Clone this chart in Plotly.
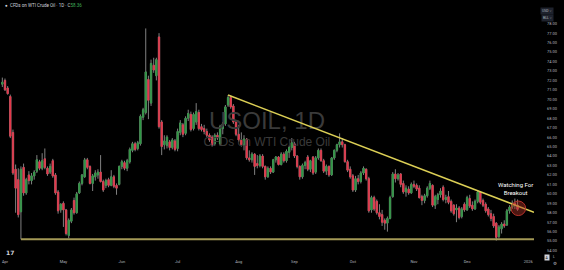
import pandas as pd
import plotly.graph_objects as go

# ---------------- data ----------------
dates = [d.strftime("%Y-%m-%d") for d in pd.bdate_range("2025-03-31", "2025-12-26")]

opens = [71.6, 72.0, 71.2, 70.3, 66.5, 62.6, 61.5, 58.1, 62.8, 60.1, 62.0, 61.4, 61.9, 62.4, 63.4, 62.7, 63.7, 62.7, 62.3, 63.5,
         62.0, 60.2, 58.3, 59.0, 58.3, 55.6, 57.1, 59.3, 58.0, 60.1, 61.1, 61.8, 63.6, 62.9, 61.1, 61.8, 62.0, 62.3, 61.3, 60.9,
         61.5, 60.9, 61.8, 60.9, 61.0, 62.9, 63.3, 62.7, 63.4, 64.6, 65.3, 64.8, 65.3, 68.1, 68.6, 72.1, 69.6, 73.6, 72.5, 76.6,
         67.6, 65.2, 65.1, 65.5, 64.9, 65.6, 64.8, 66.5, 67.3, 66.4, 68.0, 68.4, 66.9, 67.6, 68.6, 67.1, 66.9, 66.6, 66.2, 66.0,
         65.3, 66.2, 65.3, 66.9, 67.4, 69.4, 70.2, 69.3, 67.6, 66.3, 65.7, 65.2, 65.8, 63.8, 63.6, 64.2, 63.2, 63.0, 64.0, 62.9,
         61.8, 62.7, 62.3, 63.6, 63.9, 63.1, 64.2, 63.5, 64.4, 64.9, 65.3, 64.0, 62.9, 61.8, 63.0, 63.9, 62.6, 63.9, 62.3, 63.8,
         64.6, 63.5, 62.4, 62.9, 62.0, 63.8, 64.6, 65.2, 65.5, 65.2, 63.4, 62.6, 61.9, 60.4, 61.6, 61.3, 62.2, 62.6, 61.6, 58.3,
         59.6, 59.2, 58.0, 57.8, 57.2, 56.9, 57.4, 59.7, 62.1, 61.6, 62.1, 61.1, 60.2, 60.5, 60.1, 61.0, 60.9, 60.6, 59.7, 59.3,
         59.8, 60.6, 60.9, 58.8, 59.4, 59.9, 60.7, 59.4, 59.7, 59.2, 58.8, 58.3, 58.5, 57.6, 58.9, 58.3, 59.5, 58.8, 58.4, 59.2,
         60.2, 59.3, 58.9, 58.4, 57.9, 57.6, 56.9, 55.5, 56.3, 56.8, 56.7, 58.2, 58.6, 59.0, 58.8]
highs = [72.3, 72.2, 71.4, 70.5, 66.8, 63.1, 62.7, 62.9, 63.2, 61.7, 62.4, 62.2, 62.5, 64.1, 63.6, 64.3, 64.8, 62.9, 63.2, 63.7,
         62.2, 60.4, 59.0, 59.2, 58.4, 57.4, 58.5, 59.6, 60.2, 61.3, 62.1, 63.8, 63.8, 63.0, 62.1, 62.5, 62.6, 64.1, 61.5, 61.6,
         61.7, 62.5, 62.0, 61.1, 63.0, 63.6, 63.5, 63.7, 64.9, 65.5, 65.5, 65.6, 68.4, 69.1, 77.5, 72.5, 74.2, 74.4, 74.4, 77.0,
         67.8, 66.2, 66.2, 65.7, 65.9, 65.8, 66.9, 67.8, 67.5, 68.2, 68.9, 68.7, 68.6, 69.6, 68.9, 67.4, 67.3, 66.9, 66.4, 66.2,
         66.4, 66.5, 67.3, 67.6, 69.4, 70.45, 70.4, 69.5, 67.8, 67.3, 66.5, 66.2, 65.9, 64.6, 64.4, 64.3, 64.1, 64.2, 64.2, 63.0,
         62.9, 62.9, 63.7, 64.0, 64.0, 64.4, 64.4, 64.7, 65.1, 65.9, 65.5, 64.1, 63.0, 63.2, 63.5, 64.1, 63.6, 64.0, 64.0, 64.8,
         64.8, 63.7, 63.1, 63.0, 63.9, 64.7, 65.3, 66.4, 65.9, 65.3, 63.6, 62.9, 62.1, 61.9, 62.0, 62.4, 62.9, 62.7, 61.8, 59.8,
         59.8, 59.4, 58.9, 58.3, 57.4, 57.6, 59.8, 62.3, 62.6, 62.2, 62.2, 61.4, 60.9, 60.8, 61.2, 61.4, 61.1, 60.9, 59.9, 60.0,
         60.8, 61.4, 61.0, 59.9, 60.1, 60.6, 60.9, 59.9, 60.3, 59.4, 58.9, 58.9, 58.7, 58.6, 59.1, 59.8, 59.9, 59.2, 59.4, 60.4,
         60.3, 59.5, 59.1, 58.6, 58.3, 57.9, 57.0, 56.7, 57.0, 57.2, 58.4, 58.8, 59.3, 59.5, 59.4]
lows = [71.3, 70.9, 70.5, 65.9, 62.0, 58.0, 57.5, 55.2, 59.8, 59.9, 61.0, 61.0, 61.5, 62.2, 62.5, 62.5, 62.6, 61.9, 62.1, 61.7,
        59.9, 57.9, 58.0, 56.5, 55.6, 55.3, 56.9, 57.8, 57.9, 60.0, 60.9, 61.7, 62.6, 61.0, 60.3, 61.4, 61.6, 61.2, 60.2, 60.6,
        60.7, 60.8, 60.6, 59.9, 60.9, 62.6, 62.5, 62.4, 63.2, 64.4, 64.5, 64.6, 65.1, 67.8, 68.4, 67.9, 69.3, 72.8, 72.0, 66.9,
        64.1, 64.7, 64.8, 64.6, 64.7, 64.5, 64.5, 66.2, 66.0, 66.2, 67.7, 66.6, 66.7, 67.3, 66.7, 66.6, 66.3, 66.0, 65.5, 65.0,
        65.1, 65.7, 65.1, 66.3, 67.2, 69.2, 69.0, 67.4, 66.1, 65.5, 65.0, 64.6, 63.6, 63.4, 63.3, 62.0, 62.7, 62.8, 62.7, 61.5,
        61.7, 62.1, 62.2, 63.3, 63.0, 63.0, 63.3, 63.3, 63.8, 64.6, 63.8, 62.7, 61.5, 61.6, 62.6, 62.4, 62.3, 62.0, 62.1, 63.6,
        63.4, 62.2, 62.0, 61.8, 61.9, 63.6, 64.4, 64.9, 64.9, 63.3, 62.3, 61.6, 60.2, 60.2, 61.0, 61.1, 62.0, 61.4, 58.0, 58.0,
        58.2, 57.8, 57.3, 56.6, 56.2, 56.0, 57.3, 59.6, 61.2, 61.4, 60.7, 60.0, 59.7, 59.9, 60.0, 60.6, 60.3, 59.5, 58.8, 59.0,
        59.6, 60.4, 58.6, 58.4, 58.9, 59.6, 59.2, 59.0, 58.9, 58.0, 57.7, 57.0, 57.3, 57.4, 58.1, 58.2, 58.5, 58.2, 58.3, 59.0,
        58.9, 58.6, 58.0, 57.6, 57.1, 56.4, 55.05, 55.3, 55.8, 56.4, 56.6, 57.9, 58.4, 58.4, 58.2]
closes = [71.8, 71.0, 70.6, 66.1, 62.2, 60.6, 57.8, 62.6, 60.1, 61.5, 61.4, 61.9, 62.3, 63.6, 62.7, 63.5, 62.8, 62.1, 62.9, 61.9,
          60.1, 58.2, 58.9, 58.3, 55.8, 57.2, 58.3, 58.0, 60.0, 61.1, 62.0, 63.6, 62.8, 61.1, 61.9, 62.2, 62.3, 61.3, 60.4, 61.4,
          60.9, 61.8, 60.8, 60.6, 62.9, 63.4, 62.7, 63.5, 64.7, 65.3, 64.7, 65.4, 68.2, 68.9, 72.9, 69.9, 73.8, 73.1, 74.2, 67.1,
          65.0, 65.6, 66.0, 64.9, 65.7, 64.7, 66.6, 67.5, 66.3, 68.0, 68.5, 66.8, 68.4, 68.7, 66.9, 66.8, 66.6, 66.2, 65.7, 65.2,
          66.2, 65.9, 67.1, 67.4, 69.2, 70.2, 69.2, 67.6, 66.3, 65.7, 65.2, 65.8, 63.8, 63.6, 64.2, 62.9, 63.0, 64.0, 62.9, 61.8,
          62.7, 62.3, 63.6, 63.9, 63.1, 64.2, 63.5, 64.5, 64.9, 65.4, 64.0, 62.9, 61.8, 63.0, 63.3, 62.6, 63.5, 62.2, 63.8, 64.6,
          63.5, 62.4, 62.9, 62.0, 63.8, 64.6, 65.2, 65.5, 65.2, 63.4, 62.5, 61.8, 60.4, 61.6, 61.3, 62.2, 62.7, 61.6, 58.2, 59.6,
          58.4, 58.0, 57.6, 57.0, 56.9, 57.4, 59.6, 62.1, 61.6, 62.0, 61.0, 60.2, 60.6, 60.1, 61.0, 60.8, 60.5, 59.6, 59.3, 59.8,
          60.6, 61.1, 58.8, 59.7, 59.9, 60.3, 59.4, 59.6, 59.1, 58.2, 57.9, 58.5, 57.5, 58.4, 58.3, 59.6, 58.7, 58.4, 59.2, 60.2,
          59.1, 58.8, 58.2, 57.8, 57.4, 56.6, 55.4, 56.5, 56.8, 56.6, 58.2, 58.6, 59.0, 58.8, 58.36]

month_ticks = ["2025-04-01", "2025-05-01", "2025-06-02", "2025-07-01", "2025-08-01",
               "2025-09-01", "2025-10-01", "2025-11-03", "2025-12-01", "2026-01-01"]
month_labels = ["Apr", "May", "Jun", "Jul", "Aug", "Sep", "Oct", "Nov", "Dec", "2026"]
price_ticks = list(range(54, 79))

support_level = 55.2
support_start = "2025-04-09"
trend_start = ("2025-07-28", 70.45)
trend_end_price = 58.04

# ---------------- layout constants ----------------
X_RANGE = ["2025-03-28 02:53", "2026-01-05 04:48"]
Y_RANGE = [53.21, 80.51]
UP, DOWN, WICK = "#2f9944", "#e8364a", "#808080"
TXT = "#b2b5be"

body_hi = [max(o, c) for o, c in zip(opens, closes)]
body_lo = [min(o, c) for o, c in zip(opens, closes)]

fig = go.Figure()

# watermark (below candles)
fig.add_trace(go.Scatter(
    x=["2025-08-15 15:21", "2025-08-15 15:21"], y=[67.5, 65.4],
    mode="text", text=["USOIL, 1D", "CFDs on WTI Crude Oil"],
    textfont=dict(size=[24, 12], color="#3a3a3a", family="Liberation Sans"),
    textposition="middle center", hoverinfo="skip"))

# wicks (gray)
fig.add_trace(go.Candlestick(
    x=dates, open=opens, high=highs, low=lows, close=closes,
    increasing=dict(line=dict(color=WICK, width=1), fillcolor=WICK),
    decreasing=dict(line=dict(color=WICK, width=1), fillcolor=WICK),
    whiskerwidth=0, hoverinfo="skip"))

# bodies (coloured)
fig.add_trace(go.Candlestick(
    x=dates, open=opens, high=body_hi, low=body_lo, close=closes,
    increasing=dict(line=dict(color=UP, width=0.6), fillcolor=UP),
    decreasing=dict(line=dict(color=DOWN, width=0.6), fillcolor=DOWN),
    whiskerwidth=0, hoverinfo="skip"))

# support line
fig.add_trace(go.Scatter(
    x=[support_start, X_RANGE[1]], y=[support_level, support_level],
    mode="lines", line=dict(color="#a39956", width=2), hoverinfo="skip"))

# descending trendline
fig.add_trace(go.Scatter(
    x=[trend_start[0], X_RANGE[1]], y=[trend_start[1], trend_end_price],
    mode="lines", line=dict(color="#dccf55", width=1.5), hoverinfo="skip"))

fig.add_shape(type="circle", xref="x", yref="y",
              x0="2025-12-23 13:12", x1="2025-12-31 01:12", y0=57.70, y1=59.24,
              fillcolor="rgba(170,50,40,0.45)", line=dict(color="#b8322a", width=1))

ann = []
ann.append(dict(x="2025-12-25 05:00", y=60.55, xref="x", yref="y", text="Watching For<br>Breakout",
                showarrow=False, align="center",
                font=dict(size=6, color="#ffffff", family="Roboto")))
# title
ann.append(dict(x=0.006, y=0.977, xref="paper", yref="paper", xanchor="left", yanchor="middle",
                text="●  CFDs on WTI Crude Oil · 1D · C<span style='color:#3fae5a'>58.36</span>",
                showarrow=False, font=dict(size=4.5, color="#d1d4dc", family="Roboto")))
# currency / unit boxes
ann.append(dict(x=1.037, y=0.972, xref="paper", yref="paper", text="USD ˅", showarrow=False,
                font=dict(size=3.5, color=TXT, family="Roboto"), bgcolor="#1e222d", borderpad=1))
ann.append(dict(x=1.037, y=0.944, xref="paper", yref="paper", text="BLL ˅", showarrow=False,
                font=dict(size=3.5, color=TXT, family="Roboto"), bgcolor="#1e222d", borderpad=1))
# bottom right controls
ann.append(dict(x=1.03, y=-0.012, xref="paper", yref="paper", text="A", showarrow=False,
                font=dict(size=3.5, color="#000000", family="Roboto"), bgcolor="#d1d4dc", borderpad=0.5))
ann.append(dict(x=1.044, y=-0.012, xref="paper", yref="paper", text="L", showarrow=False,
                font=dict(size=3.5, color=TXT, family="Roboto")))
ann.append(dict(x=1.047, y=-0.04, xref="paper", yref="paper", text="⚙", showarrow=False,
                font=dict(size=4.5, color=TXT, family="DejaVu Sans")))
# TradingView logo
ann.append(dict(x=0.008, y=0.0, xref="paper", yref="paper", xanchor="left", yanchor="bottom",
                text="<b>17</b>", showarrow=False,
                font=dict(size=6, color="#d1d4dc", family="DejaVu Sans")))

fig.update_layout(
    width=564, height=270,
    margin=dict(l=0, r=30, t=0, b=12),
    paper_bgcolor="#000000", plot_bgcolor="#000000",
    showlegend=False, annotations=ann,
    font=dict(family="Roboto", color=TXT),
)
fig.update_xaxes(
    type="date", range=X_RANGE, rangebreaks=[dict(bounds=["sat", "mon"])],
    rangeslider_visible=False, tickvals=month_ticks, ticktext=month_labels,
    tickfont=dict(size=4, color=TXT), showgrid=False, zeroline=False, showline=False, ticks="")
fig.update_yaxes(
    side="right", range=Y_RANGE, tickvals=price_ticks,
    ticktext=[f"{v:.2f}" for v in price_ticks], tickfont=dict(size=4, color=TXT),
    showgrid=False, zeroline=False, showline=False, ticks="", ticklabelstandoff=12)

fig.write_html("out.html")
